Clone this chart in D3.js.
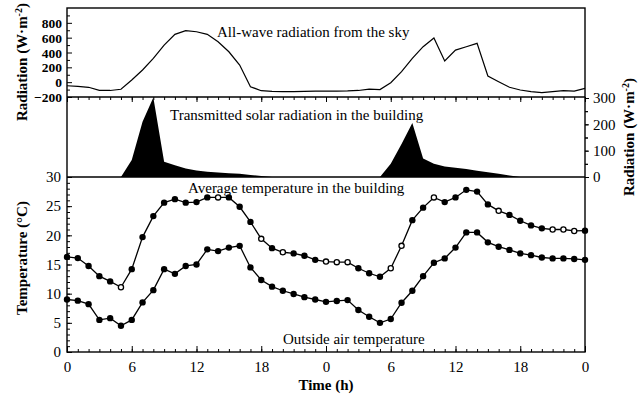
<!DOCTYPE html>
<html><head><meta charset="utf-8">
<script src="https://cdn.jsdelivr.net/npm/d3@7"></script>
<style>body{margin:0;background:#fff}svg{display:block}text{font-family:"Liberation Serif","Times New Roman",serif;fill:#000}</style>
</head><body><svg id="c" width="643" height="396"></svg>
<script>
const hours = [0,1,2,3,4,5,6,7,8,9,10,11,12,13,14,15,16,17,18,19,20,21,22,23,24,25,26,27,28,29,30,31,32,33,34,35,36,37,38,39,40,41,42,43,44,45,46,47,48];
const allWave = [-48,-58,-69,-110,-112,-96,29,164,321,500,645,694,680,645,545,410,231,-61,-115,-125,-128,-128,-125,-122,-120,-120,-118,-112,-95,-100,-7,141,321,478,595,285,433,478,524,83,6,-69,-106,-128,-142,-128,-115,-120,-83];
const transmitted = [0,0,0,0,0,0,65,210,302,58,45,32,25,20,17,14,12,8,4,0,0,0,0,0,0,0,0,0,0,0,50,125,205,70,50,40,35,30,24,18,12,6,0,0,0,0,0,0,0];
const avgTemp = [16.3,16.1,14.75,13.0,12.1,11.1,14.2,19.7,23.3,25.6,26.2,25.6,25.7,26.5,26.5,26.5,24.9,22.3,19.4,17.8,17.1,16.9,16.5,15.8,15.5,15.4,15.4,14.35,13.5,12.9,14.35,18.2,22.6,24.75,26.5,25.7,26.5,27.8,27.5,25.3,24.2,23.5,22.5,21.7,21.2,21.0,21.0,20.75,20.8];
const outsideTemp = [9.0,8.8,8.2,5.5,5.8,4.5,5.5,8.5,10.6,14.2,13.4,14.75,15.0,17.6,17.3,17.9,18.2,14.5,12.35,11.2,10.5,9.95,9.4,9.0,8.6,8.75,8.9,7.2,6.05,5.0,5.65,8.45,10.5,13.0,15.3,16.05,17.9,20.5,20.5,18.8,18.05,17.5,16.9,16.6,16.2,16.05,16.05,15.95,15.8];
const avgOpenHours = [5,14,18,20,24,25,26,30,31,34,40,45,46,47];
const timeTicks = [0,6,12,18,24,30,36,42,48];
const timeTickLabels = ["0","6","12","18","0","6","12","18","0"];
const radTicks = [-200,0,200,400,600,800];
const solarTicks = [0,100,200,300];
const tempTicks = [0,5,10,15,20,25,30];

const svg = d3.select("#c");
const L = 67, R = 585, T1 = 8, B1 = 97, B2 = 177, B3 = 352;
const x = d3.scaleLinear().domain([0, 48]).range([L, R]);
const yRad = d3.scaleLinear().domain([-200, 1000]).range([B1, T1]);
const ySol = d3.scaleLinear().domain([0, 300]).range([B2, B1 + 1]);
const yT = d3.scaleLinear().domain([0, 30]).range([B3, B2]);

function clean(g){ g.select(".domain").remove(); g.selectAll("line").attr("stroke","#000").attr("stroke-width",1); }

// transmitted solar (filled)
svg.append("path").datum(hours)
  .attr("d", d3.area().x(h => x(h)).y0(ySol(0)).y1(h => ySol(transmitted[h])))
  .attr("fill", "#000");

// all-wave radiation
svg.append("path").datum(hours)
  .attr("d", d3.line().x(h => x(h)).y(h => yRad(allWave[h])))
  .attr("fill", "none").attr("stroke", "#000").attr("stroke-width", 1.2);

// temperature lines
[avgTemp, outsideTemp].forEach(arr => {
  svg.append("path").datum(hours)
    .attr("d", d3.line().x(h => x(h)).y(h => yT(arr[h])))
    .attr("fill", "none").attr("stroke", "#000").attr("stroke-width", 1.3);
});
svg.append("g").selectAll("circle").data(hours).join("circle")
  .attr("cx", h => x(h)).attr("cy", h => yT(outsideTemp[h])).attr("r", 3.2).attr("fill", "#000");
svg.append("g").selectAll("circle").data(hours).join("circle")
  .attr("cx", h => x(h)).attr("cy", h => yT(avgTemp[h]))
  .attr("r", h => avgOpenHours.includes(h) ? 2.6 : 3.2)
  .attr("fill", h => avgOpenHours.includes(h) ? "#fff" : "#000")
  .attr("stroke", "#000").attr("stroke-width", h => avgOpenHours.includes(h) ? 1.3 : 0);

// frame
svg.append("rect").attr("x", L).attr("y", T1).attr("width", R - L).attr("height", B3 - T1)
  .attr("fill", "none").attr("stroke", "#000").attr("stroke-width", 1.4);
[B1, B2].forEach(yy => svg.append("line").attr("x1", L).attr("x2", R).attr("y1", yy).attr("y2", yy)
  .attr("stroke", "#000").attr("stroke-width", 1.4));

// x axes: bottom (ticks up), top of middle panel (ticks down)
svg.append("g").attr("transform", `translate(0,${B3})`)
  .call(d3.axisBottom(x).tickValues(hours).tickSize(-3).tickFormat("")).call(clean);
svg.append("g").attr("transform", `translate(0,${B3})`)
  .call(d3.axisBottom(x).tickValues(timeTicks).tickSize(-6).tickPadding(9)
    .tickFormat((d, i) => timeTickLabels[i])).call(clean)
  .selectAll("text").attr("font-size", 15);
svg.append("g").attr("transform", `translate(0,${B1})`)
  .call(d3.axisTop(x).tickValues(hours).tickSize(-3).tickFormat("")).call(clean);
svg.append("g").attr("transform", `translate(0,${B1})`)
  .call(d3.axisTop(x).tickValues(timeTicks).tickSize(-5).tickFormat("")).call(clean);

// left radiation axis
svg.append("g").attr("transform", `translate(${L},0)`)
  .call(d3.axisLeft(yRad).tickValues([-100,100,300,500,700,900]).tickSize(-3).tickFormat("")).call(clean);
svg.append("g").attr("transform", `translate(${L},0)`)
  .call(d3.axisLeft(yRad).tickValues(radTicks).tickSize(-5).tickPadding(5).tickFormat(d3.format("d"))).call(clean)
  .selectAll("text").attr("font-size", 13.5).attr("font-weight", "bold").attr("dy", "0.34em");

// right solar axis
svg.append("g").attr("transform", `translate(${R},0)`)
  .call(d3.axisRight(ySol).tickValues([50,150,250]).tickSize(3).tickFormat("")).call(clean);
svg.append("g").attr("transform", `translate(${R},0)`)
  .call(d3.axisLeft(ySol).tickValues(solarTicks.concat([50,150,250])).tickSize(-3).tickFormat("")).call(clean);
svg.append("g").attr("transform", `translate(${R},0)`)
  .call(d3.axisRight(ySol).tickValues(solarTicks).tickSize(4).tickPadding(4)).call(clean)
  .selectAll("text").attr("font-size", 15);

// left temperature axis
svg.append("g").attr("transform", `translate(${L},0)`)
  .call(d3.axisLeft(yT).tickValues(d3.range(0, 31)).tickSize(-3).tickFormat("")).call(clean);
svg.append("g").attr("transform", `translate(${L},0)`)
  .call(d3.axisLeft(yT).tickValues(tempTicks).tickSize(-5).tickPadding(6)).call(clean)
  .selectAll("text").attr("font-size", 15);

// annotations
const ann = [
  ["All-wave radiation from the sky", 217, 37],
  ["Transmitted solar radiation in the building", 170, 120],
  ["Average temperature in the building", 188, 193],
  ["Outside air temperature", 283, 344]
];
svg.append("g").selectAll("text").data(ann).join("text")
  .attr("x", d => d[1]).attr("y", d => d[2]).attr("font-size", 15).text(d => d[0]);

// axis titles
function radTitle(cx, cy){
  const t = svg.append("text").attr("transform", `translate(${cx},${cy}) rotate(-90)`)
    .attr("text-anchor", "middle").attr("font-size", 15).attr("font-weight", "bold");
  t.append("tspan").text("Radiation (W·m");
  t.append("tspan").attr("dy", -5).attr("font-size", 10).text("-2");
  t.append("tspan").attr("dy", 5).text(")");
}
radTitle(27, 62);
radTitle(634, 137);
svg.append("text").attr("transform", "translate(27,258) rotate(-90)")
  .attr("text-anchor", "middle").attr("font-size", 15).attr("font-weight", "bold").text("Temperature (°C)");
svg.append("text").attr("x", 326).attr("y", 390).attr("text-anchor", "middle")
  .attr("font-size", 15).attr("font-weight", "bold").text("Time (h)");
</script></body></html>
